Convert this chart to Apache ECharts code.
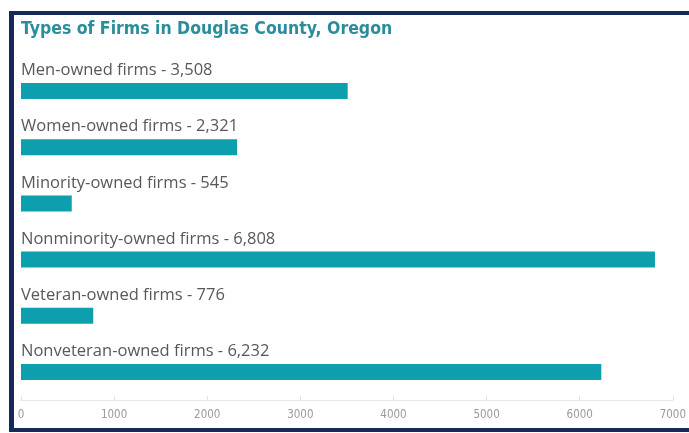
<!DOCTYPE html>
<html>
<head>
<meta charset="utf-8">
<script src="https://cdn.jsdelivr.net/npm/echarts@6/dist/echarts.min.js"></script>
<style>
  html, body { margin: 0; padding: 0; background: #fff; }
  #chart { width: 689px; height: 433px; }
</style>
</head>
<body>
<div id="chart"></div>
<script>
const categories = [
  'Men-owned firms',
  'Women-owned firms',
  'Minority-owned firms',
  'Nonminority-owned firms',
  'Veteran-owned firms',
  'Nonveteran-owned firms',
];
const firmCounts = [3508, 2321, 545, 6808, 776, 6232];
const xTicks = [0, 1000, 2000, 3000, 4000, 5000, 6000, 7000];

const BAR_COLOR = '#0e9fae';
const TITLE_COLOR = '#2a8d9b';
const FRAME_COLOR = '#17285a';

const chart = echarts.init(document.getElementById('chart'), null, { renderer: 'canvas' });

chart.setOption({
  animation: false,
  backgroundColor: '#ffffff',
  title: {
    text: 'Types of Firms in Douglas County, Oregon',
    left: 16,
    top: 15,
    textStyle: {
      color: TITLE_COLOR,
      fontFamily: '"Liberation Sans Narrow", "DejaVu Sans Condensed", sans-serif',
      fontWeight: 'bold',
      fontSize: 17.5,
    },
  },
  // frame of the screenshot: left, top and bottom edges only
  graphic: [
    {
      type: 'rect',
      silent: true,
      shape: { x: 9, y: 11, width: 5, height: 421 },
      style: { fill: FRAME_COLOR },
    },
    {
      type: 'rect',
      silent: true,
      shape: { x: 9, y: 11, width: 680, height: 4 },
      style: { fill: FRAME_COLOR },
    },
    {
      type: 'rect',
      silent: true,
      shape: { x: 9, y: 428, width: 680, height: 4 },
      style: { fill: FRAME_COLOR },
    },
  ],
  grid: {
    left: 21,
    right: 13,
    top: 63,
    bottom: 33,
    containLabel: false,
  },
  xAxis: {
    type: 'value',
    min: xTicks[0],
    max: xTicks[xTicks.length - 1],
    interval: 1000,
    axisLine: { show: true, lineStyle: { color: '#e6e6e6' } },
    axisTick: { show: true, length: 4, inside: true, lineStyle: { color: '#e2e2e2' } },
    axisLabel: {
      color: '#9a9a9a',
      fontSize: 11.5,
      margin: 9,
      fontFamily: '"DejaVu Sans Condensed", sans-serif',
      formatter: (v) => String(v),
    },
    splitLine: { show: false },
  },
  yAxis: {
    type: 'category',
    inverse: true,
    data: categories,
    axisLine: { show: false },
    axisTick: { show: false },
    axisLabel: { show: false },
  },
  series: [
    {
      type: 'bar',
      data: firmCounts,
      barWidth: 16,
      itemStyle: { color: BAR_COLOR },
      label: {
        show: true,
        position: [0, -4],
        align: 'left',
        verticalAlign: 'bottom',
        color: '#585858',
        fontSize: 16.5,
        fontFamily: '"Open Sans", sans-serif',
        formatter: (p) => `${p.name} - ${p.value.toLocaleString('en-US')}`,
      },
    },
  ],
});
</script>
</body>
</html>
